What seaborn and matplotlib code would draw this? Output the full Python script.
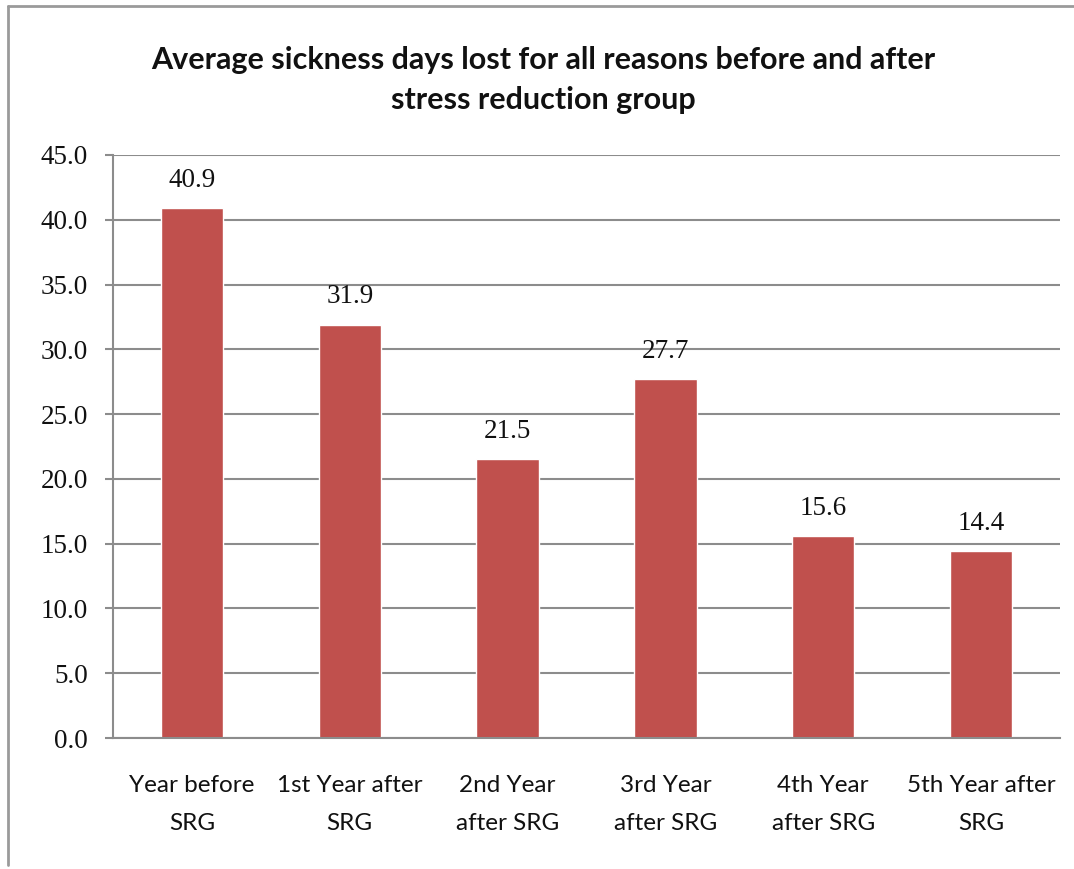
import matplotlib
matplotlib.use("Agg")
import matplotlib.pyplot as plt
import seaborn as sns
import pandas as pd
from matplotlib.lines import Line2D

categories = ["Year before\nSRG", "1st Year after\nSRG", "2nd Year\nafter SRG",
              "3rd Year\nafter SRG", "4th Year\nafter SRG", "5th Year after\nSRG"]
values = [40.9, 31.9, 21.5, 27.7, 15.6, 14.4]
yticks = [0, 5, 10, 15, 20, 25, 30, 35, 40, 45]
title = "Average sickness days lost for all reasons before and after\nstress reduction group"

sns.set_theme(style="white")
plt.rcParams['font.family'] = ['Lato', 'DejaVu Sans']

df = pd.DataFrame({"cat": categories, "val": values})

fig = plt.figure(figsize=(10.74, 8.69), dpi=100)
ax = fig.add_axes([113/1074, 1-738/869, (1060-113)/1074, (738-155)/869])

sns.barplot(data=df, x="cat", y="val", color="#C0504D", saturation=1, width=0.395, ax=ax)

ax.set_ylim(0, 45)
ax.set_yticks(yticks)
ax.set_yticklabels([f"{v:.1f}" for v in yticks], family="Liberation Serif", fontsize=19.5)
ax.yaxis.grid(True, color="#8c8c8c", linewidth=1.5)
ax.set_axisbelow(True)
ax.set_xlabel("")
ax.set_ylabel("")
for s in ["top", "right"]:
    ax.spines[s].set_visible(False)
ax.spines["left"].set_color("#8c8c8c")
ax.spines["left"].set_linewidth(1.5)
ax.spines["bottom"].set_color("#8c8c8c")
ax.spines["bottom"].set_linewidth(1.5)
ax.tick_params(axis="y", left=True, length=6, width=1.5, color="#8c8c8c", pad=12, labelcolor="#111111")
ax.set_xticks(range(len(categories)))
ax.set_xticklabels(categories, linespacing=1.95, fontsize=17.5, color="#111111")
ax.tick_params(axis="x", bottom=False, pad=21)
ax.set_xlim(-0.5, len(categories) - 0.5)

for i, v in enumerate(values):
    ax.annotate(f"{v:.1f}", (i, v), xytext=(0, 11), textcoords="offset points",
                ha="center", va="bottom", family="Liberation Serif", fontsize=19.5, color="#111111")

fig.text(543/1074, 1-80/869, title, ha="center", va="center", fontsize=22, fontweight="bold",
         color="#111111", linespacing=1.55)

# outer frame (left and top)
fig.add_artist(Line2D([8/1074, 8/1074], [1-865/869, 1-6/869], transform=fig.transFigure, color="#9a9a9a", lw=2))
fig.add_artist(Line2D([8/1074, 1], [1-6/869, 1-6/869], transform=fig.transFigure, color="#9a9a9a", lw=2))

fig.savefig("out.png", dpi=100)
